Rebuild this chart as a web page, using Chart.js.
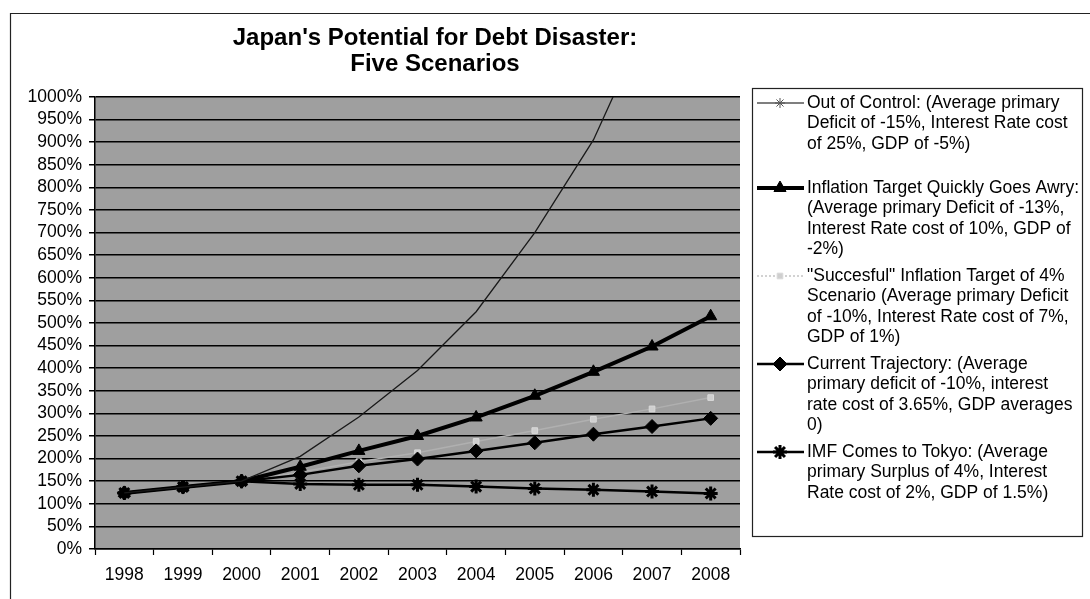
<!DOCTYPE html>
<html>
<head>
<meta charset="utf-8">
<script src="https://cdn.jsdelivr.net/npm/chart.js@4.4.1/dist/chart.umd.min.js"></script>
<style>
  body { margin: 0; background: #fff; }
  #wrap { width: 1090px; height: 599px; }
</style>
</head>
<body>
<div id="wrap"><canvas id="debtChart" width="1090" height="599"></canvas></div>
<script>
// data (% of GDP)
var years = ["1998", "1999", "2000", "2001", "2002", "2003", "2004", "2005", "2006", "2007", "2008"];
var outOfControl = [124, 137, 150, 205, 292, 395, 525, 700, 905, 1190, 1560];
var goesAwry = [124, 137, 150, 182, 217, 250, 291, 339, 392, 448, 515];
var succesful = [124, 137, 150, 170, 193, 213, 238, 262, 287, 310, 335];
var currentTrajectory = [124, 137, 150, 164, 184, 199, 217, 235, 254, 271, 289];
var imfTokyo = [124, 137, 150, 144, 142, 142, 138, 134, 131, 127, 123];

var yTicks = { min: 0, max: 1000, step: 50 };

var titleLines = ["Japan's Potential for Debt Disaster:", "Five Scenarios"];

// legend text, broken like the original
var legendOut = ["Out of Control: (Average primary", "Deficit of -15%, Interest Rate cost", "of 25%, GDP of -5%)"];
var legendAwry = ["Inflation Target Quickly Goes Awry:", "(Average primary Deficit of -13%,", "Interest Rate cost of 10%, GDP of", "-2%)"];
var legendSucc = ["\"Succesful\" Inflation Target of 4%", "Scenario (Average primary Deficit", "of -10%, Interest Rate cost of 7%,", "GDP of 1%)"];
var legendCurrent = ["Current Trajectory: (Average", "primary deficit of -10%, interest", "rate cost of 3.65%, GDP averages", "0)"];
var legendImf = ["IMF Comes to Tokyo: (Average", "primary Surplus of 4%, Interest", "Rate cost of 2%, GDP of 1.5%)"];

var FONT = "'Liberation Sans', Arial, sans-serif";

// gray plot background + outer frame + title
var backgroundPlugin = {
  id: 'bgFrame',
  beforeDraw: function(chart) {
    var ctx = chart.ctx;
    var a = chart.chartArea;
    ctx.save();
    ctx.fillStyle = '#9f9f9f';
    ctx.fillRect(a.left, a.top, a.right - a.left, a.bottom - a.top);
    // frame round the whole chart (runs off right / bottom)
    ctx.strokeStyle = '#222';
    ctx.lineWidth = 1.2;
    ctx.beginPath();
    ctx.moveTo(10.5, 599);
    ctx.lineTo(10.5, 13.5);
    ctx.lineTo(1090, 13.5);
    ctx.stroke();
    // title
    ctx.fillStyle = '#000';
    ctx.font = 'bold 24px ' + FONT;
    ctx.textAlign = 'center';
    ctx.textBaseline = 'middle';
    ctx.fillText(titleLines[0], 435, 38);
    ctx.fillText(titleLines[1], 435, 64);
    ctx.restore();
  }
};

// legend on the right, drawn by hand so the text can wrap
var legendPlugin = {
  id: 'wrapLegend',
  afterDraw: function(chart) {
    var ctx = chart.ctx;
    var box = { x: 752, y: 88, w: 330, h: 448 };
    var firstY = [103, 188, 276, 364, 452];
    var lineH = 20.5;
    ctx.save();
    ctx.fillStyle = '#fff';
    ctx.fillRect(box.x, box.y, box.w, box.h);
    ctx.strokeStyle = '#222';
    ctx.lineWidth = 1.2;
    ctx.strokeRect(box.x + 0.5, box.y + 0.5, box.w, box.h);

    chart.data.datasets.forEach(function(ds, i) {
      var y = firstY[i];
      ctx.strokeStyle = ds.legendColor || ds.borderColor;
      ctx.lineWidth = ds.borderWidth;
      ctx.setLineDash(ds.legendDash || []);
      ctx.beginPath();
      ctx.moveTo(757, y);
      ctx.lineTo(804, y);
      ctx.stroke();
      ctx.setLineDash([]);
      ctx.fillStyle = ds.legendPointColor || ds.pointBackgroundColor;
      ctx.strokeStyle = ds.legendPointColor || ds.pointBorderColor;
      ctx.lineWidth = ds.pointBorderWidth;
      Chart.helpers.drawPoint(ctx, {
        pointStyle: ds.pointStyle,
        radius: ds.legendRadius || ds.pointRadius,
        rotation: 0,
        borderWidth: ds.pointBorderWidth
      }, 780, y);

      ctx.fillStyle = '#000';
      ctx.font = '17.5px ' + FONT;
      ctx.textAlign = 'left';
      ctx.textBaseline = 'middle';
      ds.legendLines.forEach(function(t, k) {
        ctx.fillText(t, 807, y + k * lineH);
      });
    });
    ctx.restore();
  }
};

var ctx = document.getElementById('debtChart').getContext('2d');
var debtChart = new Chart(ctx, {
  type: 'line',
  data: {
    labels: years,
    datasets: [
      {
        label: "Out of Control",
        legendLines: legendOut,
        data: outOfControl,
        borderColor: '#1a1a1a',
        legendColor: '#555',
        legendPointColor: '#555',
        borderWidth: 1.3,
        pointStyle: 'star',
        pointRadius: 0,
        legendRadius: 5,
        pointBorderWidth: 1,
        pointBackgroundColor: '#1a1a1a',
        pointBorderColor: '#1a1a1a',
        order: 1
      },
      {
        label: "Inflation Target Quickly Goes Awry",
        legendLines: legendAwry,
        data: goesAwry,
        borderColor: '#000',
        borderWidth: 4,
        pointStyle: 'triangle',
        pointRadius: 7,
        pointBorderWidth: 1,
        pointBackgroundColor: '#000',
        pointBorderColor: '#000',
        order: 2
      },
      {
        label: "Succesful Inflation Target",
        legendLines: legendSucc,
        data: succesful,
        borderColor: '#b0b0b0',
        legendColor: '#c4c4c4',
        legendDash: [2, 2],
        borderWidth: 1.5,
        pointStyle: 'rect',
        pointRadius: 4,
        pointBorderWidth: 1,
        pointBackgroundColor: '#cfcfcf',
        pointBorderColor: '#dadada',
        order: 4
      },
      {
        label: "Current Trajectory",
        legendLines: legendCurrent,
        data: currentTrajectory,
        borderColor: '#000',
        borderWidth: 2.5,
        pointStyle: 'rectRot',
        pointRadius: 7,
        pointBorderWidth: 1,
        pointBackgroundColor: '#000',
        pointBorderColor: '#000',
        order: 3
      },
      {
        label: "IMF Comes to Tokyo",
        legendLines: legendImf,
        data: imfTokyo,
        borderColor: '#000',
        borderWidth: 2.5,
        pointStyle: 'star',
        pointRadius: 7,
        pointBorderWidth: 3,
        pointBackgroundColor: '#000',
        pointBorderColor: '#000',
        order: 5
      }
    ]
  },
  options: {
    responsive: false,
    animation: false,
    layout: { padding: { left: 10, right: 350, top: 97, bottom: 10 } },
    elements: { line: { tension: 0 } },
    plugins: {
      legend: { display: false },
      title: { display: false },
      tooltip: { enabled: false }
    },
    scales: {
      x: {
        offset: true,
        grid: { offset: true, drawOnChartArea: false, color: '#000', tickLength: 6, tickWidth: 1.2 },
        border: { color: '#000', width: 1.5 },
        ticks: { color: '#000', font: { family: FONT, size: 17.5 }, padding: 10, maxRotation: 0, autoSkip: false },
        afterFit: function(s) { s.height = 40; }
      },
      y: {
        min: yTicks.min,
        max: yTicks.max,
        grid: { color: '#000', lineWidth: 1.5, tickLength: 6 },
        border: { color: '#000', width: 1.5 },
        ticks: {
          stepSize: yTicks.step,
          autoSkip: false,
          color: '#000',
          padding: 7,
          font: { family: FONT, size: 17.5 },
          callback: function(v) { return v + '%'; }
        },
        afterFit: function(s) { s.width = 85; }
      }
    }
  },
  plugins: [backgroundPlugin, legendPlugin]
});
</script>
</body>
</html>
